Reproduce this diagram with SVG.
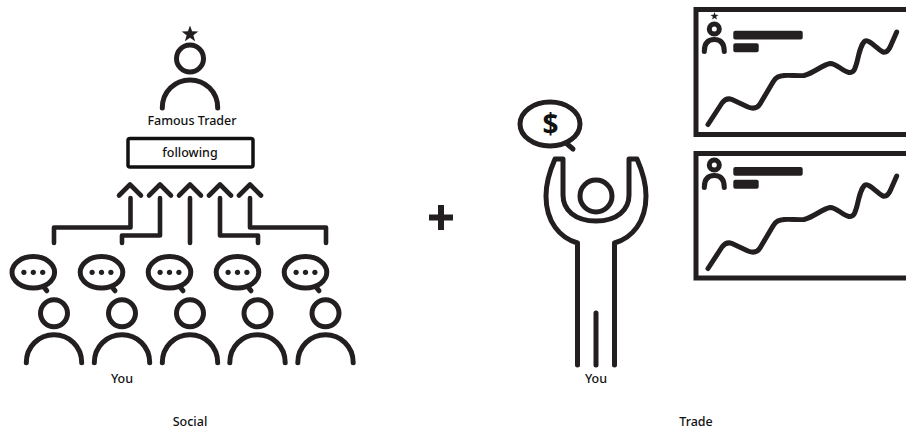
<svg xmlns="http://www.w3.org/2000/svg" width="906" height="430" viewBox="0 0 906 430">
<style>
.s{fill:none;stroke:#231f20;stroke-width:5;stroke-linecap:round;stroke-linejoin:round}
.c{fill:none;stroke:#231f20;stroke-width:4.6;stroke-linecap:round;stroke-linejoin:round}
.f{fill:#231f20}
.t{font-family:"Noto Sans","Open Sans",sans-serif;font-size:12.5px;font-weight:500;fill:#111;text-anchor:middle}
</style>
<defs>
<g id="person"><circle class="s" cx="0" cy="0" r="13.5"/><path class="s" d="M-27.700 49.500C-27.700 33 -15 21.500 0 21.500C15 21.500 27.700 33 27.700 49.500"/></g>
<g id="bubble"><ellipse class="s" cx="0" cy="0" rx="21.300" ry="15.700"/><path class="s" d="M10 14L13.500 18.500"/><circle class="f" cx="-9.400" cy="0" r="2.600"/><circle class="f" cx="0" cy="0" r="2.600"/><circle class="f" cx="9.400" cy="0" r="2.600"/></g>
<g id="mini"><circle cx="0" cy="0" r="5" fill="none" stroke="#231f20" stroke-width="5"/><path d="M-10 22.500C-10 14 -6 10.500 0 10.500C6 10.500 10 14 10 22.500" fill="none" stroke="#231f20" stroke-width="5" stroke-linecap="round"/></g>
<path id="chart" class="s" d="M708 124.500L722 103C725 99 728 98 732 99.500L748 107C753 109 757 109 760 104L773 82C776 77 779 76 784 75.500C790 75 798 76 804 75.500C814 73 822 65 830 63.500C836 63 842 71 849 72.500C854 73 855 69 857 62C859 53 861 44 865 41C869 39 876 48 883 52C887 53 889 50 891 45L896.700 32"/>
</defs>
<g id="connectors">
<path class="c" d="M119 195.500L130 184.500L141 195.500M130.500 198V227.500H54V243"/>
<path class="c" d="M149 195.500L160 184.500L171 195.500M160 198V235.500H122V243"/>
<path class="c" d="M179 195.500L190 184.500L201 195.500M190 198V243"/>
<path class="c" d="M209 195.500L220 184.500L231 195.500M220 198V235.500H258V243"/>
<path class="c" d="M239 195.500L250 184.500L261 195.500M250 198V227.500H326V243"/>
</g>
<g id="famous-trader">
<path class="f" d="M190 25.500L192.100 31.300L198.300 31.500L193.400 35.300L195.100 41.200L190 37.800L184.900 41.200L186.600 35.300L181.700 31.500L187.900 31.300Z"/>
<use href="#person" x="190" y="58.500"/>
<text class="t" x="192" y="125">Famous Trader</text>
</g>
<g id="following">
<rect x="128" y="138.500" width="125" height="28.500" rx="2" fill="#fff" stroke="#111" stroke-width="3.500"/>
<text class="t" x="190" y="157">following</text>
</g>
<g id="follower-1"><use href="#bubble" x="33.300" y="272.300"/><use href="#person" x="54" y="313.300"/></g>
<g id="follower-2"><use href="#bubble" x="101.500" y="272.300"/><use href="#person" x="122" y="313.300"/><text class="t" x="122" y="383">You</text></g>
<g id="follower-3"><use href="#bubble" x="169.500" y="272.300"/><use href="#person" x="190" y="313.300"/></g>
<g id="follower-4"><use href="#bubble" x="237.500" y="272.300"/><use href="#person" x="257.500" y="313.300"/></g>
<g id="follower-5"><use href="#bubble" x="305.500" y="272.300"/><use href="#person" x="325.500" y="313.300"/></g>
<g id="social-label"><text class="t" x="190" y="426">Social</text></g>
<g id="plus"><path d="M441 205V230M429 217.500H453" fill="none" stroke="#231f20" stroke-width="6"/></g>
<g id="trader">
<ellipse class="s" cx="550" cy="124" rx="30" ry="22"/>
<path class="s" d="M566 143L573 149"/>
<text x="550.500" y="134" text-anchor="middle" font-family="'Noto Sans','Open Sans',sans-serif" font-size="28" font-weight="700" fill="#111">$</text>
<circle class="s" cx="596" cy="196" r="16"/>
<path class="s" d="M577.500 365V243C560 238 546 222 546 196C546 180 551 168 555 159H563V195C563 210 575 221 596 221C617 221 629 210 629 195V159H637C641 168 646 180 646 196C646 222 632 238 614.500 243V365M596 313V365"/>
<text class="t" x="596" y="383">You</text>
</g>
<g id="panel-1">
<rect x="696" y="9.500" width="220" height="125" fill="#fff" stroke="#231f20" stroke-width="5"/>
<path class="f" d="M714.500 12L715.500 14.800L718.500 14.900L716.100 16.700L717 19.600L714.500 17.900L712 19.600L712.900 16.700L710.500 14.900L713.500 14.800Z"/>
<use href="#mini" x="714.300" y="29"/>
<rect class="f" x="733.300" y="30.700" width="69.400" height="8.800" rx="2"/>
<rect class="f" x="733.300" y="43.300" width="25.400" height="9" rx="2"/>
<use href="#chart"/>
</g>
<g id="panel-2">
<rect x="696" y="153.500" width="220" height="124.500" fill="#fff" stroke="#231f20" stroke-width="5"/>
<use href="#mini" x="714.300" y="165"/>
<rect class="f" x="733.300" y="167" width="69.400" height="8.800" rx="2"/>
<rect class="f" x="733.300" y="179.700" width="25.400" height="9" rx="2"/>
<use href="#chart" y="144"/>
</g>
<g id="trade-label"><text class="t" x="696" y="426">Trade</text></g>
</svg>
